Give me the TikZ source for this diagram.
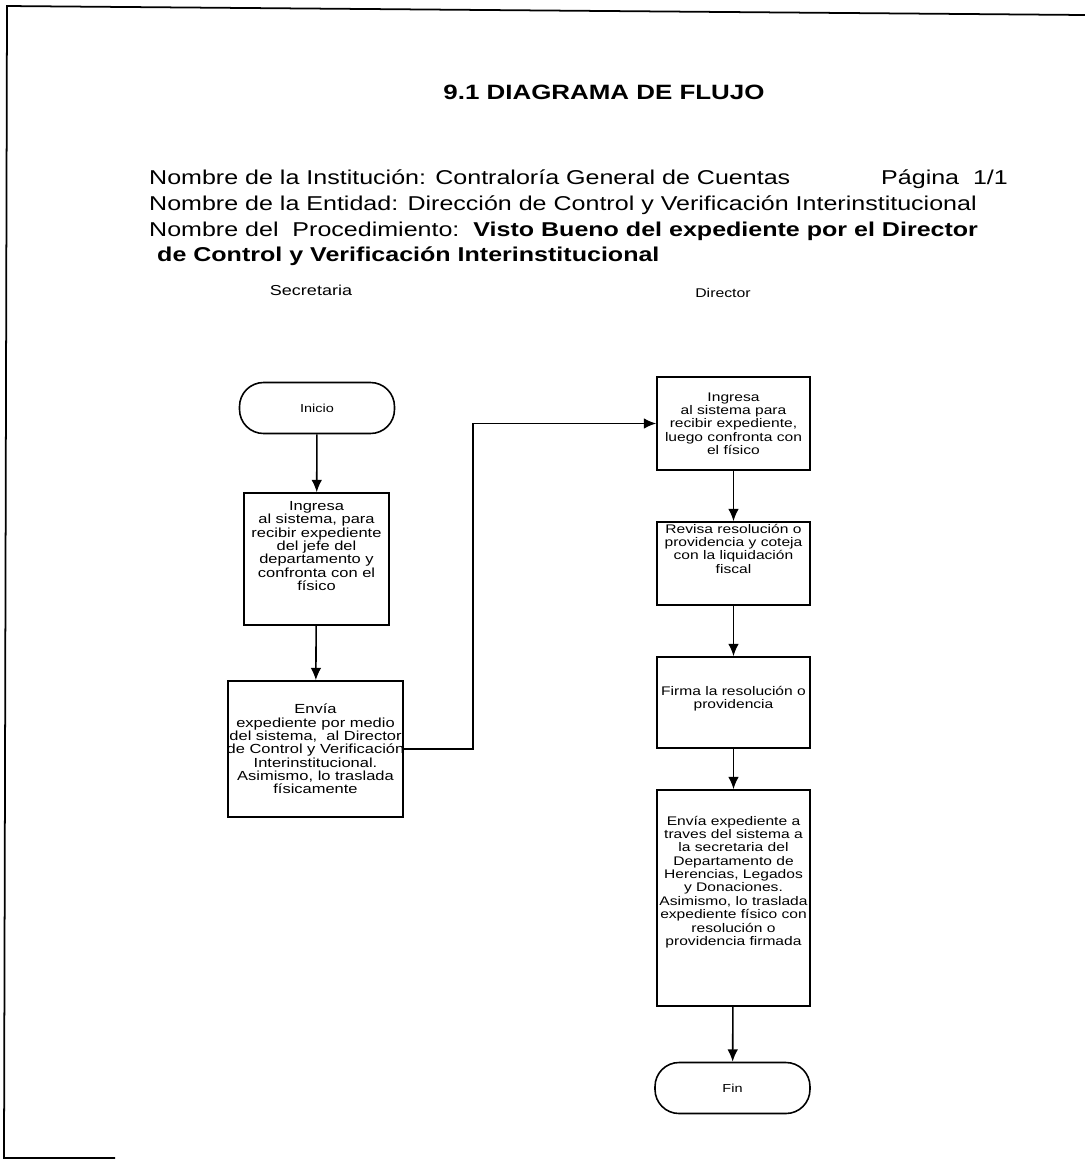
\documentclass[tikz,border=0pt]{standalone}
\usepackage{fontspec}
\setmainfont{Liberation Sans}[FakeStretch=1.25]
\usetikzlibrary{arrows.meta}

\begin{document}
\begin{tikzpicture}[x=0.02cm, y=-0.02cm, >={Latex[length=7pt,width=6pt]},
  cab/.style={anchor=base west, font=\fontsize{11.4}{13}\selectfont},
  proceso/.style={draw, line width=0.9pt, inner sep=0pt},
  terminal/.style={draw, line width=0.9pt, rounded corners=0.48cm, minimum width=3.1cm,
    minimum height=1.02cm, inner sep=0pt, font=\fontsize{6.6}{7.6}\selectfont},
  textoS/.style={align=center, font=\fontsize{7.5}{7.6}\selectfont},
  textoD/.style={align=center, font=\fontsize{7.1}{7.6}\selectfont},
  flecha/.style={->, line width=0.9pt}]
  \useasboundingbox (0,0) rectangle (1085,1161);

  % page frame
  \draw[line width=1pt] (115,1158) -- (4,1158) -- (7,6) -- (1085,15);

  % heading
  \node[font=\bfseries\fontsize{11.8}{14}\selectfont] (titulo) at (604,92) {9.1 DIAGRAMA DE FLUJO};
  \node[cab] (inst) at (143,184) {Nombre de la Institución: Contraloría General de Cuentas};
  \node[cab] (pagina) at (875,184) {Página~~1/1};
  \node[cab] (entidad) at (143,210) {Nombre de la Entidad: Dirección de Control y Verificación Interinstitucional};
  \node[cab] (proc) at (143,236) {Nombre del~~Procedimiento:~~\textbf{Visto Bueno del expediente por el Director}};
  \node[cab] (proc2) at (151,261) {\textbf{de Control y Verificación Interinstitucional}};

  % lanes
  \node[font=\fontsize{8.2}{9}\selectfont] (secretaria) at (311,290) {Secretaria};
  \node[font=\fontsize{7.2}{8}\selectfont] (director) at (723,293) {Director};

  % Secretaria column
  \node[terminal] (inicio) at (317,408) {Inicio};
  \node[proceso, minimum width=2.9cm, minimum height=2.64cm] (ingresa) at (316.5,559) {};
  \node[textoS] (ingresaT) at ([yshift=0.26cm]ingresa.center)
    {Ingresa\\ al sistema, para\\ recibir expediente\\ del jefe del\\ departamento y\\ confronta con el\\ físico};
  \node[proceso, minimum width=3.5cm, minimum height=2.72cm] (envia) at (315.5,749) {};
  \node[textoS] (enviaT) at (envia.center)
    {Envía\\ expediente por medio\\ del sistema,~~al Director\\ de Control y Verificación\\ Interinstitucional.\\ Asimismo, lo traslada\\ físicamente};

  % Director column
  \node[proceso, minimum width=3.06cm, minimum height=1.86cm] (recibe) at (733.5,423.5) {};
  \node[textoD] (recibeT) at (recibe.center)
    {Ingresa\\ al sistema para\\ recibir expediente,\\ luego confronta con\\ el físico};
  \node[proceso, minimum width=3.06cm, minimum height=1.66cm] (revisa) at (733.5,563.5) {};
  \node[textoD] (revisaT) at ([yshift=0.3cm]revisa.center)
    {Revisa resolución o\\ providencia y coteja\\ con la liquidación\\ fiscal};
  \node[proceso, minimum width=3.06cm, minimum height=1.82cm] (firma) at (733.5,702.5) {};
  \node[textoD] (firmaT) at ([yshift=0.08cm]firma.center)
    {Firma la resolución o\\ providencia};
  \node[proceso, minimum width=3.06cm, minimum height=4.32cm] (remite) at (733.5,898) {};
  \node[textoD] (remiteT) at ([yshift=0.32cm]remite.center)
    {Envía expediente a\\ traves del sistema a\\ la secretaria del\\ Departamento de\\ Herencias, Legados\\ y Donaciones.\\ Asimismo, lo traslada\\ expediente físico con\\ resolución o\\ providencia firmada};
  \node[terminal] (fin) at (732.5,1088) {Fin};

  % connectors
  \draw[flecha] (inicio) -- (ingresa);
  \draw[flecha] (ingresa) -- (envia);
  \draw[flecha] (envia.east) -- ++(69,0) |- (recibe.west);
  \draw[flecha] (recibe) -- (revisa);
  \draw[flecha] (revisa) -- (firma);
  \draw[flecha] (firma) -- (remite);
  \draw[flecha] (remite) -- (fin);
\end{tikzpicture}
\end{document}
